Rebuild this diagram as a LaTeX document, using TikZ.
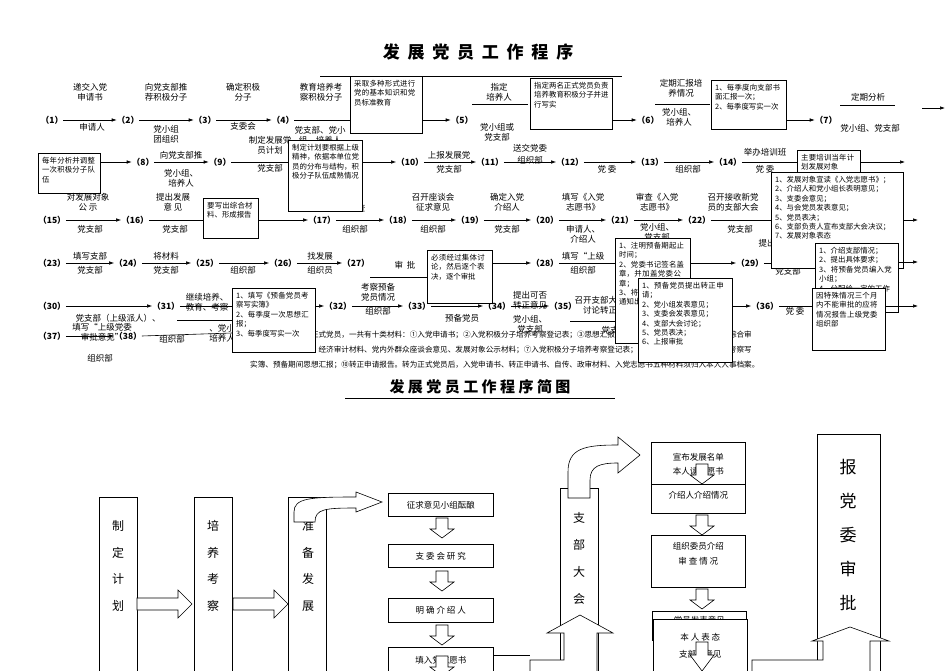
\documentclass[tikz,border=0pt]{standalone}
\usepackage{fontspec}
\setmainfont{Noto Sans CJK SC}
\XeTeXlinebreaklocale "zh"
\XeTeXlinebreakskip=0pt plus 1pt
\usetikzlibrary{arrows.meta}
\tikzset{
 num/.style={inner sep=0pt,font=\fontsize{8.5}{9}\selectfont\bfseries},
 lab/.style={inner sep=0pt,align=center,font=\fontsize{8.5}{10}\selectfont},
 notetxt/.style={inner sep=0pt,align=left,anchor=north west,font=\fontsize{7.4}{9.4}\selectfont},
 frame/.style={draw,fill=white,line width=0.6pt,anchor=north west,inner sep=0pt},
 arr/.style={-{Latex[length=5pt,width=3.5pt]},line width=0.6pt},
 ln/.style={line width=0.6pt},
 box/.style={draw,line width=0.6pt},
 blk/.style={draw,fill=white,line width=0.6pt},
 big/.style={inner sep=0pt,font=\fontsize{12}{13}\selectfont},
 bboxt/.style={draw,line width=0.6pt,inner sep=0pt,font=\fontsize{8.5}{12}\selectfont,align=center},
}
\newcommand\downar[2]{\draw[blk] (#1-6,#2)--(#1+6,#2)--(#1+6,#2+11)--(#1+12,#2+11)--(#1,#2+20)--(#1-12,#2+11)--(#1-6,#2+11)--cycle;}
% name, x, y, w, h, text
\newcommand\nbox[6]{\node[frame,minimum width=#4pt,minimum height=#5pt] (#1) at (#2,#3) {};
 \node[notetxt,text width=#4pt-7pt] (#1t) at (#2+4,#3+4) {#6};}
\begin{document}
\begin{tikzpicture}[x=1pt,y=-1pt]
\useasboundingbox (0,0) rectangle (950,671);
% titles
\node[inner sep=0pt,font=\fontsize{17}{18}\selectfont\bfseries] (t1) at (478,52) {发\ \ 展\ \ 党\ \ 员\ \ 工\ \ 作\ \ 程\ \ 序};
\draw[ln] (320,76) -- (622,76);
% footnote text (behind boxes)
\node[inner sep=0pt,anchor=west,font=\fontsize{7.6}{9}\selectfont] (f1) at (250,335) {从入党申请到转为正式党员，一共有十类材料：①入党申请书；②入党积极分子培养考察登记表；③思想汇报；④自传；⑤团组织推荐意见；⑥综合审};
\node[inner sep=0pt,anchor=west,font=\fontsize{7.6}{9}\selectfont] (f2) at (250,350) {查报告及政审材料、经济审计材料、党内外群众座谈会意见、发展对象公示材料；⑦入党积极分子培养考察登记表；⑧入党志愿书；⑨预备党员考察写};
\node[inner sep=0pt,anchor=west,font=\fontsize{7.6}{9}\selectfont] (f3) at (250,365) {实簿、预备期间思想汇报；⑩转正申请报告。转为正式党员后，入党申请书、转正申请书、自传、政审材料、入党志愿书五种材料须归入本人人事档案。};
\node[inner sep=0pt,font=\fontsize{15}{16}\selectfont\bfseries] (t2) at (480,387) {发\ 展\ 党\ 员\ 工\ 作\ 程\ 序\ 简\ 图};
\draw[ln] (345,398) -- (615,398);

% ===== row 1
\node[num] (p1) at (52,120) {（1）};
\node[num] (p2) at (128,120) {（2）};
\node[num] (p3) at (205,120) {（3）};
\node[num] (p4) at (283,120) {（4）};
\node[num] (p5) at (462,120) {（5）};
\node[num] (p6) at (648,120) {（6）};
\node[num] (p7) at (826,120) {（7）};
\node[lab] (a1) at (90,92) {递交入党\\申请书};
\node[lab] (b1) at (92,127) {申请人};
\node[lab] (a2) at (166,92) {向党支部推\\荐积极分子};
\node[lab] (b2) at (166,134) {党小组\\团组织};
\node[lab] (a3) at (243,92) {确定积极\\分子};
\node[lab] (b3) at (243,126) {支委会};
\node[lab] (a4) at (321,92) {教育培养考\\察积极分子};
\node[lab] (b4) at (320,135) {党支部、党小\\组、培养人};
\draw[arr] (p1) -- (p2);
\draw[arr] (p2) -- (p3);
\draw[arr] (p3) -- (p4);
\draw[ln] (p4.east) -- (352,120);
\nbox{n1}{350}{76}{72}{57}{采取多种形式进行党的基本知识和党员标准教育}
\draw[arr] (n1.east |- p5) -- (p5);
\node[lab] (a5) at (499,92) {指定\\培养人};
\draw[ln] (472,104) -- (528,104);
\node[lab] (b5) at (497,132) {党小组或\\党支部};
\nbox{n2}{530}{78}{82}{51}{指定两名正式党员负责培养教育积极分子并进行写实}
\draw[arr] (n2.east |- p6) -- (p6);
\node[lab] (a6) at (681,88) {定期汇报培\\养情况};
\draw[ln] (655,104) -- (710,104);
\node[lab] (b6) at (679,117) {党小组、\\培养人};
\nbox{n3}{711}{80}{75}{49}{1、每季度向支部书面汇报一次；\\2、每季度写实一次}
\draw[arr] (n3.east |- p7) -- (p7);
\node[lab] (a7) at (868,97) {定期分析};
\draw[ln] (840,105) -- (895,105);
\node[lab] (b7) at (870,128) {党小组、党支部};
\coordinate (e7a) at (922,108); \coordinate (e7b) at (945,108);
\draw[arr] (e7a) -- (e7b);

% ===== row 2
\nbox{n4}{38}{153}{62}{40}{每年分析并调整一次积极分子队伍}
\node[num] (p8) at (143,162) {（8）};
\node[num] (p9) at (220,162) {（9）};
\node[num] (p10) at (410,162) {（10）};
\node[num] (p11) at (490,162) {（11）};
\node[num] (p12) at (570,162) {（12）};
\node[num] (p13) at (650,162) {（13）};
\node[num] (p14) at (728,162) {（14）};
\draw[arr] (n4.east |- p8) -- (p8);
\node[lab] (a8) at (181,155) {向党支部推};
\node[lab] (b8) at (181,178) {党小组、\\培养人};
\draw[arr] (p8) -- (p9);
\node[lab] (a9) at (270,145) {制定发展党\\员计划};
\node[lab] (b9) at (270,168) {党支部};
\draw[ln] (p9.east) -- (290,162);
\node[lab] (a10) at (449,155) {上报发展党};
\node[lab] (b10) at (449,169) {党支部};
\draw[arr] (p10) -- (p11);
\node[lab] (a11) at (530,148) {送交党委};
\node[lab] (b11) at (530,160) {组织部};
\draw[arr] (p11) -- (p12);
\node[lab] (b12) at (607,169) {党\ 委};
\draw[arr] (p12) -- (p13);
\node[lab] (b13) at (688,169) {组织部};
\draw[arr] (p13) -- (p14);
\node[lab] (a14) at (765,152) {举办培训班};
\node[lab] (b14) at (765,169) {党\ 委};
\draw[ln] (p14.east) -- (798,162);
\coordinate (e14) at (905,162);

% ===== row 3
\node[num] (p15) at (52,220) {（15）};
\node[num] (p16) at (135,220) {（16）};
\node[num] (p17) at (322,220) {（17）};
\node[num] (p18) at (398,220) {（18）};
\node[num] (p19) at (470,220) {（19）};
\node[num] (p20) at (545,220) {（20）};
\node[num] (p21) at (620,220) {（21）};
\node[num] (p22) at (697,220) {（22）};
\node[lab] (a15) at (88,202) {对发展对象\\公\ 示};
\node[lab] (b15) at (90,229) {党支部};
\draw[arr] (p15) -- (p16);
\node[lab] (a16) at (173,202) {提出发展\\意\ 见};
\node[lab] (b16) at (175,229) {党支部};
\draw[ln] (p16.east) -- (205,220);
\node[lab] (a17) at (355,208) {审\ \ 查};
\node[lab] (b17) at (355,229) {组织部};
\draw[arr] (p17) -- (p18);
\node[lab] (a18) at (433,202) {召开座谈会\\征求意见};
\node[lab] (b18) at (433,229) {组织部};
\draw[arr] (p18) -- (p19);
\node[lab] (a19) at (507,202) {确定入党\\介绍人};
\node[lab] (b19) at (507,229) {党支部};
\draw[arr] (p19) -- (p20);
\node[lab] (a20) at (583,202) {填写《入党\\志愿书》};
\node[lab] (b20) at (583,234) {申请人、\\介绍人};
\draw[arr] (p20) -- (p21);
\node[lab] (a21) at (657,202) {审查《入党\\志愿书》};
\node[lab] (b21) at (657,232) {党小组、\\党支部};
\draw[arr] (p21) -- (p22);
\node[lab] (a22) at (733,202) {召开接收新党\\员的支部大会};
\node[lab] (b22) at (740,229) {党支部};
\draw[ln] (p22.east) -- (772,220);
\node[lab] (a22b) at (767,243) {提出};
\node[lab] (b29) at (788,271) {党支部};

% ===== row 4
\node[num] (p23) at (52,263) {（23）};
\node[num] (p24) at (128,263) {（24）};
\node[num] (p25) at (205,263) {（25）};
\node[num] (p26) at (283,263) {（26）};
\node[num] (p27) at (356,263) {（27）};
\node[num] (p28) at (545,263) {（28）};
\node[num] (p29) at (750,263) {（29）};
\node[lab] (a23) at (90,256) {填写支部};
\node[lab] (b23) at (90,270) {党支部};
\draw[arr] (p23) -- (p24);
\node[lab] (a24) at (166,256) {将材料};
\node[lab] (b24) at (166,270) {党支部};
\draw[arr] (p24) -- (p25);
\node[lab] (b25) at (243,270) {组织部};
\draw[arr] (p25) -- (p26);
\node[lab] (a26) at (320,256) {找发展};
\node[lab] (b26) at (320,270) {组织员};
\draw[arr] (p26) -- (p27);
\node[lab] (a27) at (405,265) {审\ \ 批};
\draw[ln] (370,277) -- (430,277);
\node[lab] (a28) at (583,256) {填写“上级};
\node[lab] (b28) at (583,270) {组织部};
\draw[ln] (p28.east) -- (617,263);
\draw[ln] (p29.east) -- (817,263);

% ===== row 5
\node[num] (p30) at (52,306) {（30）};
\node[num] (p31) at (166,306) {（31）};
\node[num] (p32) at (338,306) {（32）};
\node[num] (p33) at (417,306) {（33）};
\node[num] (p34) at (497,306) {（34）};
\node[num] (p35) at (563,306) {（35）};
\node[num] (p36) at (765,306) {（36）};
\node[num] (p37) at (52,336) {（37）};
\node[num] (p38) at (128,336) {（38）};
\draw[arr] (p30) -- (p31);
\node[lab] (b30) at (118,318) {党支部（上级派人）、};
\node[lab] (a31) at (207,302) {继续培养、\\教育、考察};
\draw[ln] (177,320) -- (232,320);
\node[lab] (b31) at (222,333) {、党小\\培养人};
\draw[ln] (p31.east) -- (235,306);
\node[lab] (a32) at (378,292) {考察预备\\党员情况};
\node[lab] (b32) at (378,311) {组织部};
\draw[arr] (p32) -- (p33);
\node[lab] (b33) at (462,318) {预备党员};
\draw[arr] (p33) -- (p34);
\node[lab] (a34) at (530,300) {提出可否\\转正意见};
\node[lab] (b34) at (530,324) {党小组、\\党支部};
\draw[arr] (p34) -- (p35);
\node[lab] (a35) at (600,305) {召开支部大会\\讨论转正};
\draw[ln] (570,321) -- (640,321);
\node[lab] (b35) at (610,330) {党支};
\node[lab] (b36) at (795,311) {党\ 委};
\draw[ln] (p36.east) -- (815,306);
\node[lab] (a37) at (102,332) {填写“上级党委\\审批意见”};
\draw[arr] (p37) -- (p38);
\node[lab] (c37) at (100,358) {组织部};
\node[lab] (b38) at (172,339) {组织部};
\draw[ln] (p38.east) -- (232,333);

% note boxes
\nbox{n5}{288}{140}{74}{71}{制定计划要根据上级精神，依据本单位党员的分布与结构，积极分子队伍成熟情况}
\draw[arr] (n5.east |- p10) -- (p10);
\nbox{n6}{797}{150}{63}{30}{\centering 主要培训当年计划发展对象}
\draw[arr] (n6.east |- e14) -- (e14);
\nbox{n7}{203}{198}{55}{40}{要写出综合材料、形成报告}
\draw[arr] (n7.east |- p17) -- (p17);
\nbox{n8}{771}{172}{132}{96}{1、发展对象宣读《入党志愿书》；\\2、介绍人和党小组长表明意见；\\3、支委会意见；\\4、与会党员发表意见；\\5、党员表决；\\6、支部负责人宣布支部大会决议；\\7、发展对象表态}
\coordinate (e22) at (918,220);
\draw[arr] (n8.east |- e22) -- (e22);
\nbox{n9}{427}{250}{65}{53}{必须经过集体讨论，然后逐个表决，逐个审批}
\draw[arr] (n9.east |- p28) -- (p28);
\nbox{n10}{615}{238}{75}{105}{1、注明预备期起止时间；\\2、党委书记签名盖章，并加盖党委公章；\\3、将审批结果及时通知出通知}
\draw[arr] (n10.east |- p29) -- (p29);
\nbox{n11}{815}{243}{83}{69}{1、介绍支部情况；\\2、提出具体要求；\\3、将预备党员编入党小组；\\4、分配给一定的工作}
\coordinate (e29) at (918,262);
\draw[arr] (n11.east |- e29) -- (e29);
\nbox{n12}{232}{288}{83}{64}{1、填写《预备党员考察写实簿》\\2、每季度一次思想汇报；\\3、每季度写实一次}
\draw[arr] (n12.east |- p32) -- (p32);
\nbox{n13}{638}{278}{94}{84}{1、预备党员提出转正申请；\\2、党小组发表意见；\\3、支委会发表意见；\\4、支部大会讨论；\\5、党员表决；\\6、上报审批}
\draw[arr] (n13.east |- p36) -- (p36);
\nbox{n14}{812}{288}{73}{62}{因特殊情况三个月内不能审批的应将情况报告上级党委组织部}
\coordinate (e36) at (918,306);
\draw[arr] (n14.east |- e36) -- (e36);

% ===== bottom diagram
\node[box,minimum width=38pt,minimum height=180pt,anchor=north west,inner sep=0pt] (k1) at (99,497) {};
\node[big,align=center,font=\fontsize{12}{26.5}\selectfont] (k1t) at (118,566) {制\\定\\计\\划};
\node[box,minimum width=38pt,minimum height=180pt,anchor=north west,inner sep=0pt] (k2) at (194,497) {};
\node[big,align=center,font=\fontsize{12}{26.5}\selectfont] (k2t) at (213,566) {培\\养\\考\\察};
\node[box,minimum width=38pt,minimum height=180pt,anchor=north west,inner sep=0pt] (k3) at (288,497) {};
\node[big,align=center,font=\fontsize{12}{26.5}\selectfont] (k3t) at (308,566) {准\\备\\发\\展};
\draw[blk] (137,598)--(178,598)--(178,590)--(192,604)--(178,618)--(178,610)--(137,610)--cycle;
\draw[blk] (233,598)--(274,598)--(274,590)--(288,604)--(274,618)--(274,610)--(233,610)--cycle;
\draw[blk] (294,522)--(294,512) .. controls (294,498) and (310,497) .. (356,497) -- (356,492) -- (382,502) -- (356,512) -- (356,508) .. controls (325,508) and (315,509) .. (315,522) -- cycle;

\node[bboxt,minimum width=105pt,minimum height=23pt,anchor=north west] (c1) at (388,493) {征求意见小组酝酿};
\node[bboxt,minimum width=105pt,minimum height=23pt,anchor=north west] (c2) at (388,544) {支\ 委\ 会\ 研\ 究};
\node[bboxt,minimum width=105pt,minimum height=24pt,anchor=north west] (c3) at (388,598) {明\ 确\ 介\ 绍\ 人};
\node[bboxt,minimum width=105pt,minimum height=26pt,anchor=north west] (c4) at (388,647) {填入党志愿书};
\downar{442}{518}
\downar{442}{571}
\downar{442}{625}
\downar{442}{656}
\draw[ln] (493,655) -- (530,655);

% zhibu dahui
\node[box,minimum width=38pt,minimum height=185pt,anchor=north west,inner sep=0pt] (d1) at (560,488) {};
\draw[blk] (568,498)--(568,472) .. controls (568,448) and (585,445) .. (618,445) -- (618,437) -- (640,455) -- (618,473) -- (618,463) .. controls (600,463) and (590,466) .. (590,480) -- (590,498) -- cycle;
\node[big,align=center,font=\fontsize{12}{27}\selectfont] (d1t) at (579,558) {支\\部\\大\\会};
\draw[blk] (530,671)--(530,660)--(564,660)--(564,633)--(547,633)--(580,615)--(613,633)--(597,633)--(597,671);

\node[bboxt,minimum width=94pt,minimum height=43pt,anchor=north west,font=\fontsize{8.5}{14}\selectfont] (g1) at (651,442) {宣布发展名单\\本人读志愿书};
\node[bboxt,minimum width=94pt,minimum height=29pt,anchor=north west,fill=white,text depth=8pt] (g2) at (651,484) {介绍人介绍情况};
\downar{702}{464}
\node[bboxt,minimum width=94pt,minimum height=52pt,anchor=north west,font=\fontsize{8.5}{15}\selectfont,text depth=16pt] (g3) at (651,535) {组织委员介绍\\审\ 查\ 情\ 况};
\downar{702}{515}
\downar{702}{589}
\node[bboxt,minimum width=94pt,minimum height=29pt,anchor=north west,text depth=12pt] (g4) at (652,611) {党员发表意见};
\node[bboxt,minimum width=94pt,minimum height=53pt,anchor=north west,fill=white,font=\fontsize{8.5}{17}\selectfont] (g5) at (653,619) {本\ 人\ 表\ 态\\支部的意见};
\draw[blk] (696,642)--(708,642)--(708,655)--(714,655)--(702,671)--(690,655)--(696,655)--cycle;

% baodangwei
\node[box,minimum width=63pt,minimum height=240pt,anchor=north west,inner sep=0pt] (h1) at (817,434) {};
\node[big,align=center,font=\fontsize{17}{34}\selectfont] (h1t) at (848,535) {报\\党\\委\\审\\批};
\draw[blk] (752,671)--(752,660)--(823,660)--(823,641)--(812,641)--(850,627)--(889,641)--(870,641)--(870,671);
\end{tikzpicture}
\end{document}
